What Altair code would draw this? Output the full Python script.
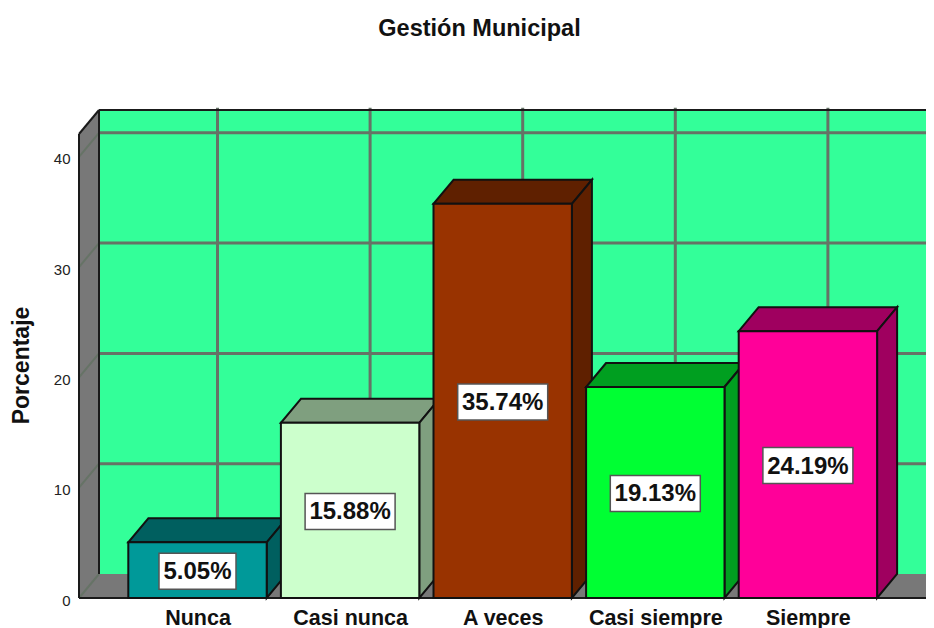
import altair as alt
import pandas as pd

CATEGORIES = ["Nunca", "Casi nunca", "A veces", "Casi siempre", "Siempre"]
VALUES = [5.05, 15.88, 35.74, 19.13, 24.19]
LABELS = ["5.05%", "15.88%", "35.74%", "19.13%", "24.19%"]
FRONT = ["#009999", "#CCFFCC", "#993300", "#00FF33", "#FF0099"]
SHADE = ["#005F5F", "#7F9F7F", "#5F2000", "#009F20", "#9F005F"]
Y_TICKS = [0, 10, 20, 30, 40]

FONT = "Liberation Sans"
W, H = 847, 488
PX_PER_CAT, PX_PER_PCT = 152.6, 11.03
X_LO = -118.5 / PX_PER_CAT
X_HI = X_LO + W / PX_PER_CAT
Y_HI = H / PX_PER_PCT
DX, DY = 20 / PX_PER_CAT, 24 / PX_PER_PCT
HALF = 69.2 / PX_PER_CAT
FLOOR_R = 730.5 / PX_PER_CAT

xs = alt.Scale(domain=[X_LO, X_HI], nice=False, zero=False)
ys = alt.Scale(domain=[0, Y_HI], nice=False, zero=False)
GRID = "#667366"
EDGE = "#1a1a1a"
WALL = "#787878"

XAXIS = alt.Axis(
    values=list(range(len(CATEGORIES))),
    labelExpr="[" + ",".join(f"'{c}'" for c in CATEGORIES) + "][datum.value]",
    labelFont=FONT,
    labelFontWeight="bold",
    labelFontSize=21.5,
    labelColor="#111111",
    labelPadding=9,
    labelOverlap=False,
    labelBound=False,
    labelFlush=False,
    domain=False,
    ticks=False,
    grid=False,
    title=None,
)
YAXIS = alt.Axis(
    values=Y_TICKS,
    labelFont=FONT,
    labelFontSize=15,
    labelColor="#222222",
    labelPadding=9,
    labelOffset=2,
    domain=False,
    ticks=False,
    grid=False,
    title="Porcentaje",
    titleFont=FONT,
    titleFontSize=23,
    titleFontWeight="bold",
    titleColor="#111111",
    titleAngle=270,
    titleAlign="center",
    titleBaseline="middle",
    titleX=-58,
    titleY=255,
)


def X():
    return alt.X("x:Q", scale=xs, axis=XAXIS)


def Y():
    return alt.Y("y:Q", scale=ys, axis=YAXIS, stack=None)


def rule(rows, color, width, clip=False):
    return (
        alt.Chart(pd.DataFrame(rows))
        .mark_rule(color=color, strokeWidth=width, clip=clip)
        .encode(X(), alt.X2("x2:Q"), Y(), alt.Y2("y2:Q"))
    )


layers = []

# back wall
layers.append(
    alt.Chart(pd.DataFrame([{"x": X_LO + DX, "x2": X_HI, "y": DY, "y2": Y_HI}]))
    .mark_rect(color="#33FF99")
    .encode(X(), alt.X2("x2:Q"), Y(), alt.Y2("y2:Q"))
)

# left wall
layers.append(
    alt.Chart(
        pd.DataFrame(
            [
                {"x": X_LO, "y": 0, "y2": Y_HI - DY},
                {"x": X_LO + DX, "y": DY, "y2": Y_HI},
            ]
        )
    )
    .mark_area(color=WALL)
    .encode(X(), Y(), alt.Y2("y2:Q"))
)
# floor
layers.append(
    alt.Chart(
        pd.DataFrame(
            [
                {"x": X_LO, "x2": FLOOR_R, "y": 0},
                {"x": X_LO + DX, "x2": FLOOR_R + DX, "y": DY},
            ]
        )
    )
    .mark_area(color=WALL, orient="horizontal", clip=True)
    .encode(X(), alt.X2("x2:Q"), Y())
)

# grid lines
layers.append(
    rule(
        [{"x": X_LO + DX, "x2": X_HI, "y": t + DY, "y2": t + DY} for t in Y_TICKS[1:]],
        GRID, 3,
    )
)
layers.append(
    rule(
        [{"x": X_LO, "x2": X_LO + DX, "y": t, "y2": t + DY} for t in Y_TICKS],
        GRID, 2,
    )
)
layers.append(
    rule(
        [{"x": i + DX, "x2": i + DX, "y": DY, "y2": Y_HI + 0.2} for i in range(len(CATEGORIES))],
        GRID, 3,
    )
)

# dark frame edges
layers.append(
    rule(
        [
            {"x": X_LO, "x2": X_LO, "y": 0, "y2": Y_HI - DY},
            {"x": X_LO, "x2": X_LO + DX, "y": Y_HI - DY, "y2": Y_HI},
            {"x": X_LO + DX, "x2": X_LO + DX, "y": DY, "y2": Y_HI},
            {"x": X_LO + DX, "x2": X_HI, "y": Y_HI, "y2": Y_HI},
            {"x": X_LO, "x2": FLOOR_R, "y": 0, "y2": 0},
        ],
        EDGE, 2,
    )
)
layers.append(
    rule([{"x": FLOOR_R, "x2": FLOOR_R + DX, "y": 0, "y2": DY}], EDGE, 2, clip=True)
)

# bars, left to right so each covers the previous bar's side face
for i, v in enumerate(VALUES):
    l, r = i - HALF, i + HALF
    layers.append(
        alt.Chart(
            pd.DataFrame(
                [
                    {"x": l, "x2": r, "y": v},
                    {"x": l + DX, "x2": r + DX, "y": v + DY},
                ]
            )
        )
        .mark_area(color=SHADE[i], stroke="#111111", strokeWidth=2, orient="horizontal")
        .encode(X(), alt.X2("x2:Q"), Y())
    )
    layers.append(
        alt.Chart(
            pd.DataFrame(
                [
                    {"x": r, "y": v, "y2": 0},
                    {"x": r + DX, "y": v + DY, "y2": DY},
                ]
            )
        )
        .mark_area(color=SHADE[i], stroke="#111111", strokeWidth=2)
        .encode(X(), Y(), alt.Y2("y2:Q"))
    )
    layers.append(
        alt.Chart(pd.DataFrame([{"x": l, "x2": r, "y": v, "y2": 0}]))
        .mark_rect(color=FRONT[i], stroke="#111111", strokeWidth=2)
        .encode(X(), alt.X2("x2:Q"), Y(), alt.Y2("y2:Q"))
    )

# value labels
for i, (v, t) in enumerate(zip(VALUES, LABELS)):
    d = pd.DataFrame([{"x": i, "y": v / 2, "t": t}])
    layers.append(
        alt.Chart(d)
        .mark_rect(
            color="white",
            stroke="#555555",
            strokeWidth=1.5,
            width=77 if len(t) == 5 else 90,
            height=36,
            yOffset=1,
        )
        .encode(X(), Y())
    )
    layers.append(
        alt.Chart(d)
        .mark_text(font=FONT, fontSize=24, fontWeight="bold", color="#111111",
                   align="center", baseline="middle", dy=2)
        .encode(X(), Y(), text="t:N")
    )

chart = (
    alt.layer(*layers)
    .properties(
        width=W,
        height=H,
        autosize=alt.AutoSizeParams(type="none"),
        padding={"left": 71, "top": 102, "right": 0, "bottom": 30},
        title=alt.TitleParams(
            "Gestión Municipal",
            font=FONT,
            fontSize=23.5,
            fontWeight="bold",
            color="#111111",
            anchor="middle",
            dx=-23,
            offset=66,
        ),
    )
    .configure_view(stroke=None)
)

chart.save("out.html", embed_options={"renderer": "svg", "actions": False})
